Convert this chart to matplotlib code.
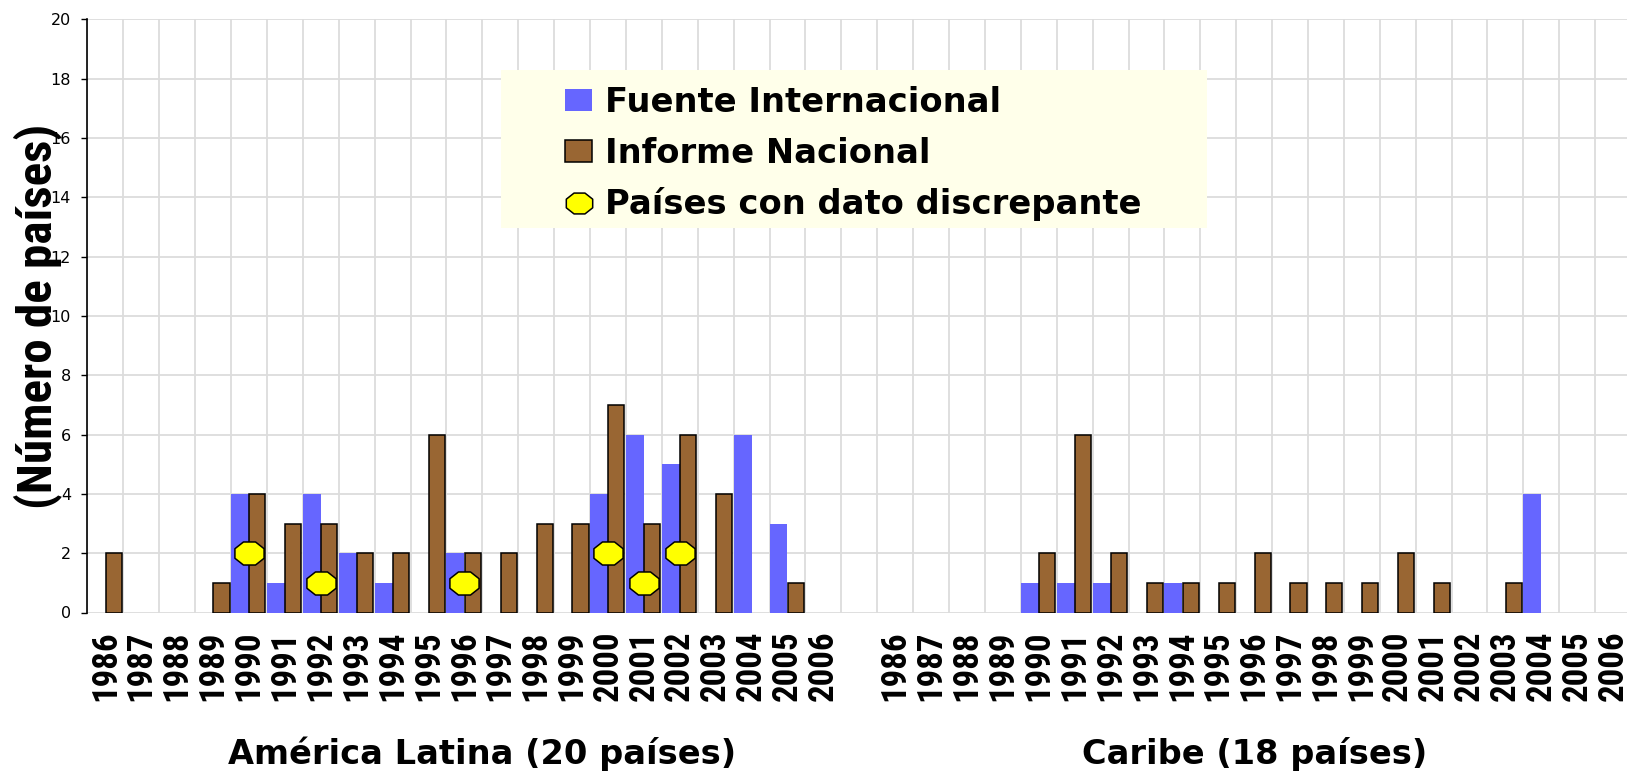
import numpy as np
import matplotlib
matplotlib.use("Agg")
import matplotlib.pyplot as plt
from matplotlib import font_manager as fm
from matplotlib.patches import Patch, Rectangle
from matplotlib.lines import Line2D
from matplotlib.path import Path
from matplotlib.ticker import FixedLocator, NullFormatter

# ---------------- data ----------------
years = list(range(1986, 2007))
la_internacional = [0, 0, 0, 0, 4, 1, 4, 2, 1, 0, 2, 0, 0, 0, 4, 6, 5, 0, 6, 3, 0]
la_nacional      = [2, 0, 0, 1, 4, 3, 3, 2, 2, 6, 2, 2, 3, 3, 7, 3, 6, 4, 0, 1, 0]
la_disc_years    = [1990, 1992, 1996, 2000, 2001, 2002]
la_disc_values   = [2, 1, 1, 2, 1, 2]
car_internacional = [0, 0, 0, 0, 1, 1, 1, 0, 1, 0, 0, 0, 0, 0, 0, 0, 0, 0, 4, 0, 0]
car_nacional      = [0, 0, 0, 0, 2, 6, 2, 1, 1, 1, 2, 1, 1, 1, 2, 1, 0, 1, 0, 0, 0]
region_labels = ["América Latina (20 países)", "Caribe (18 países)"]
legend_labels = ["Fuente Internacional", "Informe Nacional", "Países con dato discrepante"]
ylabel_text = "(Número de países)"

BLUE = "#6666FF"
BROWN = "#996633"
YELLOW = "#FFFF00"
GRID = "#DCDCDC"

W, H = 1627, 771
fig = plt.figure(figsize=(W / 100, H / 100), dpi=100)
fig.patch.set_facecolor("white")

slot = 35.9
left_px, top_px, zero_px = 87.4, 19.5, 612.5
ax = fig.add_axes([left_px / W, (H - zero_px) / H, 43 * slot / W, (zero_px - top_px) / H])

avail = {f.name for f in fm.fontManager.ttflist}
narrow_family = "DejaVu Sans"
for cand in ["Liberation Sans Narrow", "Roboto Condensed", "Open Sans Condensed",
             "Liberation Sans", "Arial"]:
    if cand in avail:
        narrow_family = cand
        break

# slot positions
offset_car = 22
la_x = np.arange(len(years))
car_x = np.arange(len(years)) + offset_car

def bars(xs, vals, dx, width, **kw):
    xs = np.asarray(xs, float)
    vals = np.asarray(vals, float)
    m = vals > 0
    ax.bar(xs[m] + dx, vals[m], width=width, **kw)

blue_kw = dict(color=BLUE, edgecolor="none", linewidth=0, zorder=2)
brown_kw = dict(color=BROWN, edgecolor="black", linewidth=1.1, zorder=3)
bars(la_x, la_internacional, -0.25, 0.5, **blue_kw)
bars(car_x, car_internacional, -0.25, 0.5, **blue_kw)
bars(la_x, la_nacional, 0.235, 0.45, **brown_kw)
bars(car_x, car_nacional, 0.235, 0.45, **brown_kw)

# octagon marker (slightly wider than tall)
ang = np.deg2rad(22.5 + 45 * np.arange(8))
verts = np.column_stack([np.cos(ang), 0.79 * np.sin(ang)])
verts = np.vstack([verts, verts[:1]])
oct_marker = Path(verts, [Path.MOVETO] + [Path.LINETO] * 7 + [Path.CLOSEPOLY])

disc_x = [y - years[0] for y in la_disc_years]
ax.plot(disc_x, la_disc_values, ls="none", marker=oct_marker, ms=21,
        mfc=YELLOW, mec="black", mew=1.1, zorder=4)

# axes
ax.set_xlim(-0.5, 42.5)
ax.set_ylim(0, 20)
ax.set_yticks(np.arange(0, 21, 2))
ax.xaxis.set_major_locator(FixedLocator(list(la_x) + list(car_x)))
ax.set_xticklabels([str(y) for y in years] * 2)
ax.xaxis.set_minor_locator(FixedLocator(np.arange(-0.5, 43, 1.0)))
ax.xaxis.set_minor_formatter(NullFormatter())
ax.set_axisbelow(True)
ax.grid(False)
ax.xaxis.grid(True, which="minor", color=GRID, lw=1.3)
ax.yaxis.grid(True, which="major", color=GRID, lw=1.3)
ax.tick_params(axis="x", which="both", length=0, pad=13)
ax.tick_params(axis="y", which="major", length=4.3, width=1.0, pad=7.5,
               labelsize=11.5, color="black", labelcolor="black")
for s in ("top", "right", "bottom"):
    ax.spines[s].set_visible(False)
ax.spines["left"].set_linewidth(1.2)
ax.spines["left"].set_color("black")

tick_fp = fm.FontProperties(family=[narrow_family], weight="bold", size=24)
for lab in ax.get_xticklabels():
    lab.set_fontproperties(tick_fp)
    lab.set_rotation(90)

ylab_fp = fm.FontProperties(family=[narrow_family], weight="bold", size=30)
ax.set_ylabel(ylabel_text, fontproperties=ylab_fp)
ax.yaxis.label.set_verticalalignment("center")
ax.yaxis.set_label_coords(38 / W, (H - 316) / H, transform=fig.transFigure)

# region labels
reg_fp = fm.FontProperties(family=["DejaVu Sans"], weight="bold", size=24.2)
fig.text(482 / W, 7 / H, region_labels[0], ha="center", va="baseline", fontproperties=reg_fp)
fig.text(1255 / W, 7 / H, region_labels[1], ha="center", va="baseline", fontproperties=reg_fp)

# legend with cream background
bg = Rectangle((501 / W, (H - 228) / H), 706 / W, 158 / H, transform=fig.transFigure,
               facecolor="#FFFFEA", edgecolor="none", zorder=6, clip_on=False)
ax.add_patch(bg)
handles = [
    Patch(facecolor=BLUE, edgecolor="none"),
    Patch(facecolor=BROWN, edgecolor="black", linewidth=1.1),
    Line2D([], [], ls="none", marker=oct_marker, ms=19, mfc=YELLOW, mec="black", mew=1.1),
]
leg = ax.legend(handles, legend_labels, loc="upper left",
                bbox_to_anchor=(565 / W, (H - 86) / H), bbox_transform=fig.transFigure,
                frameon=False, borderpad=0, borderaxespad=0,
                handlelength=0.8, handleheight=0.62, handletextpad=0.39,
                labelspacing=0.52, prop=fm.FontProperties(family=["DejaVu Sans"], weight="bold", size=24.3))
leg.set_zorder(7)

# fit rotated text lengths to the reference
fig.canvas.draw()
r = fig.canvas.get_renderer()
lab0 = ax.get_xticklabels()[0]
h0 = lab0.get_window_extent(r).height
new_tick = tick_fp.get_size_in_points() * 71.0 / h0
for lab in ax.get_xticklabels():
    lab.set_fontsize(new_tick)
hy = ax.yaxis.label.get_window_extent(r).height
ax.yaxis.label.set_fontsize(ylab_fp.get_size_in_points() * 385.0 / hy)

fig.savefig("out.png", dpi=100)
